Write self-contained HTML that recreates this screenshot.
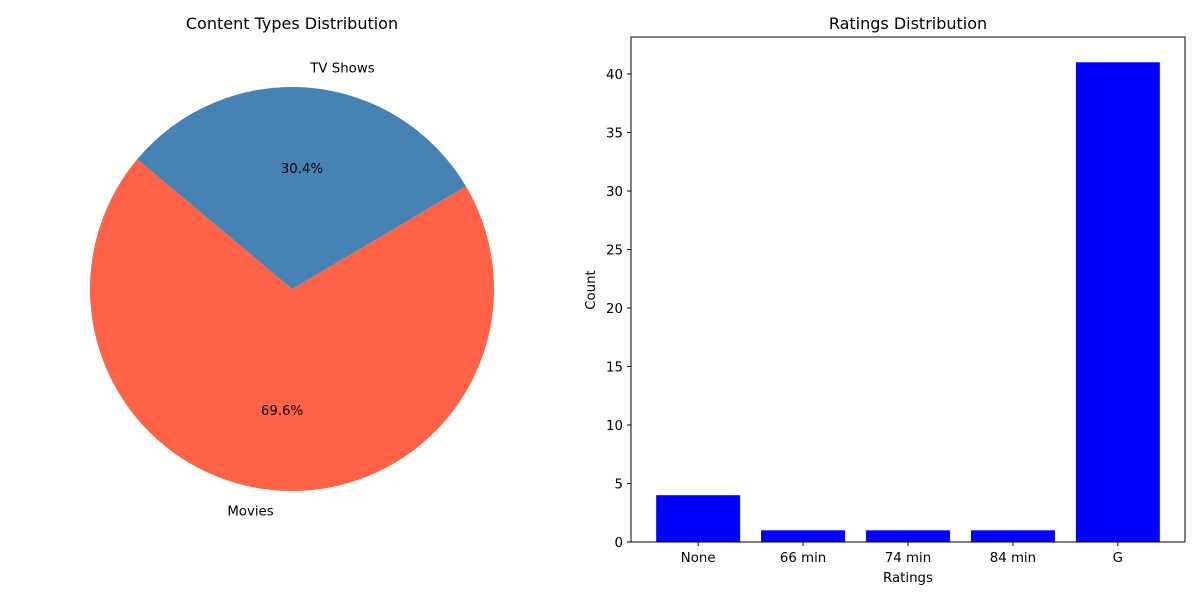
<!DOCTYPE html>
<html><head><meta charset="utf-8"><style>
body{margin:0;background:#fff;}
svg{display:block;font-family:"DejaVu Sans","Liberation Sans",sans-serif;}
</style></head><body>
<svg id="c" width="1200" height="600" viewBox="0 0 1200 600">
<rect width="1200" height="600" fill="#fff"/>
<text x="292" y="29" font-size="16" text-anchor="middle">Content Types Distribution</text>
<g id="pie"></g>
<text x="908" y="29" font-size="16" text-anchor="middle">Ratings Distribution</text>
<g id="bars"></g>
<rect x="631" y="37" width="554" height="505" fill="none" stroke="#000" stroke-width="1"/>
<text x="908" y="582" font-size="13.33" text-anchor="middle">Ratings</text>
<text x="595" y="290" font-size="13.33" text-anchor="middle" transform="rotate(-90 595 290)">Count</text>
</svg>
<script>
const pieLabels=["Movies","TV Shows"];
const pieValues=[69.6,30.4];
const pieColors=["#ff6347","#4682b4"];
const barCats=["None","66 min","74 min","84 min","G"];
const barValues=[4,1,1,1,41];
const yTicks=[0,5,10,15,20,25,30,35,40];
const NS="http://www.w3.org/2000/svg";
function mk(t,a,p){const e=document.createElementNS(NS,t);for(const k in a)e.setAttribute(k,a[k]);p.appendChild(e);return e;}
const FS=13.33;
const pie=document.getElementById('pie');
const cx=292,cy=289,R=202;
const tot=pieValues.reduce((a,b)=>a+b,0);
let ang=140;
function pt(a,r){const rad=a*Math.PI/180;return [cx+r*Math.cos(rad),cy-r*Math.sin(rad)];}
pieValues.forEach((v,i)=>{
  const sweep=v/tot*360;const a0=ang,a1=ang+sweep;
  const p0=pt(a0,R),p1=pt(a1,R);
  const path=mk('path',{d:`M${cx},${cy} L${p0[0]},${p0[1]} A${R},${R} 0 ${sweep>180?1:0} 0 ${p1[0]},${p1[1]} Z`,fill:pieColors[i]},pie);
  
  
  const mid=(a0+a1)/2;
  const lp=pt(mid,R*1.1);
  const c=Math.cos(mid*Math.PI/180);
  const lt=mk('text',{x:lp[0],y:lp[1]+5,'font-size':FS,'text-anchor':c>0.01?'start':(c<-0.01?'end':'middle')},pie);
  lt.textContent=pieLabels[i];
  
  
  const pp=pt(mid,R*0.6);
  const pt2=mk('text',{x:pp[0],y:pp[1]+5,'font-size':FS,'text-anchor':'middle'},pie);
  pt2.textContent=(v/tot*100).toFixed(1)+'%';
  
  
  ang=a1;
});
const bars=document.getElementById('bars');
const L=631,W=554,B=542;
const xmin=-0.64,xmax=barCats.length-1+0.64;
const xs=i=>L+(i-xmin)/(xmax-xmin)*W;
const ys=v=>B-v*11.7;
barValues.forEach((v,i)=>{
  const x0=xs(i-0.4),x1=xs(i+0.4);
  const r=mk('rect',{x:x0,y:ys(v),width:x1-x0,height:B-ys(v),fill:'#0000ff'},bars);
  
  
  const tk=mk('line',{x1:xs(i),x2:xs(i),y1:B,y2:B+4,stroke:'#000'},bars);
  
  
  const t=mk('text',{x:xs(i),y:B+20,'font-size':FS,'text-anchor':'middle'},bars);
  t.textContent=barCats[i];
  
  
});
yTicks.forEach(v=>{
  const tk=mk('line',{x1:L-4,x2:L,y1:ys(v),y2:ys(v),stroke:'#000'},bars);
  
  
  const t=mk('text',{x:L-8,y:ys(v)+5,'font-size':FS,'text-anchor':'end'},bars);
  t.textContent=v;
  
  
});
</script>
</body></html>
